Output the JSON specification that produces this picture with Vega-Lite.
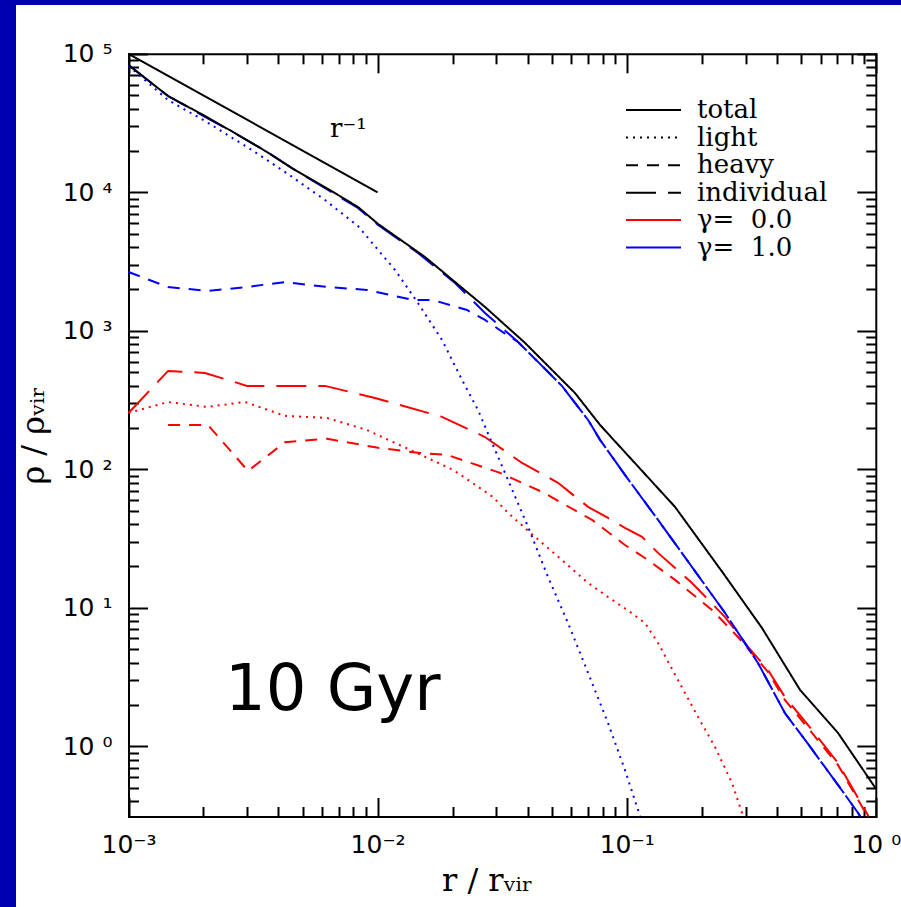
{
  "$schema": "https://vega.github.io/schema/vega-lite/v6.json",
  "width": 885,
  "height": 902,
  "padding": {"left": 16, "top": 5, "right": 0, "bottom": 0},
  "autosize": {"type": "none"},
  "background": "#0000b0",
  "config": {
    "view": {"fill": "white", "stroke": null},
    "axis": {
      "grid": false,
      "tickColor": "black",
      "tickWidth": 2,
      "domainColor": "black",
      "domainWidth": 2,
      "domainCap": "square",
      "labelColor": "black",
      "titleColor": "black",
      "labelFlush": false,
      "labelOverlap": false
    },
    "legend": {
      "labelFont": "DejaVu Serif",
      "labelFontSize": 26,
      "labelColor": "black",
      "labelLimit": 400,
      "rowPadding": 1.6,
      "padding": 0
    }
  },
  "datasets": {
    "profiles": [
      {"series": "s1", "component": "light", "gamma": "γ=\u00a0\u00a00.0", "r": 0.001, "rho": 255},
      {"series": "s1", "component": "light", "gamma": "γ=\u00a0\u00a00.0", "r": 0.001442, "rho": 306},
      {"series": "s1", "component": "light", "gamma": "γ=\u00a0\u00a00.0", "r": 0.002065, "rho": 282},
      {"series": "s1", "component": "light", "gamma": "γ=\u00a0\u00a00.0", "r": 0.002936, "rho": 306},
      {"series": "s1", "component": "light", "gamma": "γ=\u00a0\u00a00.0", "r": 0.00425, "rho": 243},
      {"series": "s1", "component": "light", "gamma": "γ=\u00a0\u00a00.0", "r": 0.006264, "rho": 235},
      {"series": "s1", "component": "light", "gamma": "γ=\u00a0\u00a00.0", "r": 0.009066, "rho": 192},
      {"series": "s1", "component": "light", "gamma": "γ=\u00a0\u00a00.0", "r": 0.01439, "rho": 131},
      {"series": "s1", "component": "light", "gamma": "γ=\u00a0\u00a00.0", "r": 0.02008, "rho": 99.0},
      {"series": "s1", "component": "light", "gamma": "γ=\u00a0\u00a00.0", "r": 0.02306, "rho": 83.8},
      {"series": "s1", "component": "light", "gamma": "γ=\u00a0\u00a00.0", "r": 0.02905, "rho": 63.1},
      {"series": "s1", "component": "light", "gamma": "γ=\u00a0\u00a00.0", "r": 0.03338, "rho": 48.4},
      {"series": "s1", "component": "light", "gamma": "γ=\u00a0\u00a00.0", "r": 0.04285, "rho": 32.5},
      {"series": "s1", "component": "light", "gamma": "γ=\u00a0\u00a00.0", "r": 0.05495, "rho": 22.1},
      {"series": "s1", "component": "light", "gamma": "γ=\u00a0\u00a00.0", "r": 0.06998, "rho": 15.1},
      {"series": "s1", "component": "light", "gamma": "γ=\u00a0\u00a00.0", "r": 0.08414, "rho": 11.97},
      {"series": "s1", "component": "light", "gamma": "γ=\u00a0\u00a00.0", "r": 0.1031, "rho": 9.33},
      {"series": "s1", "component": "light", "gamma": "γ=\u00a0\u00a00.0", "r": 0.1184, "rho": 7.76},
      {"series": "s1", "component": "light", "gamma": "γ=\u00a0\u00a00.0", "r": 0.1336, "rho": 5.57},
      {"series": "s1", "component": "light", "gamma": "γ=\u00a0\u00a00.0", "r": 0.1606, "rho": 3.01},
      {"series": "s1", "component": "light", "gamma": "γ=\u00a0\u00a00.0", "r": 0.1932, "rho": 1.63},
      {"series": "s1", "component": "light", "gamma": "γ=\u00a0\u00a00.0", "r": 0.2262, "rho": 0.988},
      {"series": "s1", "component": "light", "gamma": "γ=\u00a0\u00a00.0", "r": 0.2647, "rho": 0.543},
      {"series": "s1", "component": "light", "gamma": "γ=\u00a0\u00a00.0", "r": 0.2903, "rho": 0.33},
      {"series": "s1", "component": "light", "gamma": "γ=\u00a0\u00a00.0", "r": 0.2935, "rho": 0.311},

      {"series": "s2", "component": "heavy", "gamma": "γ=\u00a0\u00a00.0", "r": 0.001442, "rho": 209},
      {"series": "s2", "component": "heavy", "gamma": "γ=\u00a0\u00a00.0", "r": 0.002084, "rho": 209},
      {"series": "s2", "component": "heavy", "gamma": "γ=\u00a0\u00a00.0", "r": 0.003018, "rho": 97.3},
      {"series": "s2", "component": "heavy", "gamma": "γ=\u00a0\u00a00.0", "r": 0.00425, "rho": 157},
      {"series": "s2", "component": "heavy", "gamma": "γ=\u00a0\u00a00.0", "r": 0.006264, "rho": 166},
      {"series": "s2", "component": "heavy", "gamma": "γ=\u00a0\u00a00.0", "r": 0.01005, "rho": 143},
      {"series": "s2", "component": "heavy", "gamma": "γ=\u00a0\u00a00.0", "r": 0.0148, "rho": 131},
      {"series": "s2", "component": "heavy", "gamma": "γ=\u00a0\u00a00.0", "r": 0.019, "rho": 127},
      {"series": "s2", "component": "heavy", "gamma": "γ=\u00a0\u00a00.0", "r": 0.031, "rho": 94.2},
      {"series": "s2", "component": "heavy", "gamma": "γ=\u00a0\u00a00.0", "r": 0.04571, "rho": 68.7},
      {"series": "s2", "component": "heavy", "gamma": "γ=\u00a0\u00a00.0", "r": 0.07261, "rho": 43.1},
      {"series": "s2", "component": "heavy", "gamma": "γ=\u00a0\u00a00.0", "r": 0.0984, "rho": 28.4},
      {"series": "s2", "component": "heavy", "gamma": "γ=\u00a0\u00a00.0", "r": 0.1218, "rho": 22.1},
      {"series": "s2", "component": "heavy", "gamma": "γ=\u00a0\u00a00.0", "r": 0.1563, "rho": 15.9},
      {"series": "s2", "component": "heavy", "gamma": "γ=\u00a0\u00a00.0", "r": 0.22, "rho": 9.64},
      {"series": "s2", "component": "heavy", "gamma": "γ=\u00a0\u00a00.0", "r": 0.2797, "rho": 6.15},
      {"series": "s2", "component": "heavy", "gamma": "γ=\u00a0\u00a00.0", "r": 0.3692, "rho": 3.44},
      {"series": "s2", "component": "heavy", "gamma": "γ=\u00a0\u00a00.0", "r": 0.4315, "rho": 2.16},
      {"series": "s2", "component": "heavy", "gamma": "γ=\u00a0\u00a00.0", "r": 0.5546, "rho": 1.25},
      {"series": "s2", "component": "heavy", "gamma": "γ=\u00a0\u00a00.0", "r": 0.7047, "rho": 0.733},
      {"series": "s2", "component": "heavy", "gamma": "γ=\u00a0\u00a00.0", "r": 0.9051, "rho": 0.336},
      {"series": "s2", "component": "heavy", "gamma": "γ=\u00a0\u00a00.0", "r": 0.925, "rho": 0.311},

      {"series": "s3", "component": "individual", "gamma": "γ=\u00a0\u00a00.0", "r": 0.001, "rho": 255},
      {"series": "s3", "component": "individual", "gamma": "γ=\u00a0\u00a00.0", "r": 0.001442, "rho": 513},
      {"series": "s3", "component": "individual", "gamma": "γ=\u00a0\u00a00.0", "r": 0.002028, "rho": 496},
      {"series": "s3", "component": "individual", "gamma": "γ=\u00a0\u00a00.0", "r": 0.00299, "rho": 400},
      {"series": "s3", "component": "individual", "gamma": "γ=\u00a0\u00a00.0", "r": 0.006149, "rho": 400},
      {"series": "s3", "component": "individual", "gamma": "γ=\u00a0\u00a00.0", "r": 0.009763, "rho": 327},
      {"series": "s3", "component": "individual", "gamma": "γ=\u00a0\u00a00.0", "r": 0.01813, "rho": 239},
      {"series": "s3", "component": "individual", "gamma": "γ=\u00a0\u00a00.0", "r": 0.02698, "rho": 171},
      {"series": "s3", "component": "individual", "gamma": "γ=\u00a0\u00a00.0", "r": 0.038, "rho": 111},
      {"series": "s3", "component": "individual", "gamma": "γ=\u00a0\u00a00.0", "r": 0.053, "rho": 79.8},
      {"series": "s3", "component": "individual", "gamma": "γ=\u00a0\u00a00.0", "r": 0.06998, "rho": 53.5},
      {"series": "s3", "component": "individual", "gamma": "γ=\u00a0\u00a00.0", "r": 0.08414, "rho": 44.5},
      {"series": "s3", "component": "individual", "gamma": "γ=\u00a0\u00a00.0", "r": 0.0984, "rho": 37.7},
      {"series": "s3", "component": "individual", "gamma": "γ=\u00a0\u00a00.0", "r": 0.1152, "rho": 32.5},
      {"series": "s3", "component": "individual", "gamma": "γ=\u00a0\u00a00.0", "r": 0.1336, "rho": 24.9},
      {"series": "s3", "component": "individual", "gamma": "γ=\u00a0\u00a00.0", "r": 0.1828, "rho": 15.1},
      {"series": "s3", "component": "individual", "gamma": "γ=\u00a0\u00a00.0", "r": 0.2483, "rho": 8.57},
      {"series": "s3", "component": "individual", "gamma": "γ=\u00a0\u00a00.0", "r": 0.3069, "rho": 5.21},
      {"series": "s3", "component": "individual", "gamma": "γ=\u00a0\u00a00.0", "r": 0.3692, "rho": 3.56},
      {"series": "s3", "component": "individual", "gamma": "γ=\u00a0\u00a00.0", "r": 0.4315, "rho": 2.27},
      {"series": "s3", "component": "individual", "gamma": "γ=\u00a0\u00a00.0", "r": 0.5546, "rho": 1.31},
      {"series": "s3", "component": "individual", "gamma": "γ=\u00a0\u00a00.0", "r": 0.7047, "rho": 0.757},
      {"series": "s3", "component": "individual", "gamma": "γ=\u00a0\u00a00.0", "r": 0.9051, "rho": 0.347},
      {"series": "s3", "component": "individual", "gamma": "γ=\u00a0\u00a00.0", "r": 0.935, "rho": 0.311},

      {"series": "s4", "component": "light", "gamma": "γ=\u00a0\u00a01.0", "r": 0.001, "rho": 81660},
      {"series": "s4", "component": "light", "gamma": "γ=\u00a0\u00a01.0", "r": 0.001442, "rho": 46360},
      {"series": "s4", "component": "light", "gamma": "γ=\u00a0\u00a01.0", "r": 0.002028, "rho": 32730},
      {"series": "s4", "component": "light", "gamma": "γ=\u00a0\u00a01.0", "r": 0.003131, "rho": 20180},
      {"series": "s4", "component": "light", "gamma": "γ=\u00a0\u00a01.0", "r": 0.004369, "rho": 13550},
      {"series": "s4", "component": "light", "gamma": "γ=\u00a0\u00a01.0", "r": 0.006149, "rho": 8790},
      {"series": "s4", "component": "light", "gamma": "γ=\u00a0\u00a01.0", "r": 0.008337, "rho": 5715},
      {"series": "s4", "component": "light", "gamma": "γ=\u00a0\u00a01.0", "r": 0.01005, "rho": 3828},
      {"series": "s4", "component": "light", "gamma": "γ=\u00a0\u00a01.0", "r": 0.01175, "rho": 2748},
      {"series": "s4", "component": "light", "gamma": "γ=\u00a0\u00a01.0", "r": 0.01452, "rho": 1588},
      {"series": "s4", "component": "light", "gamma": "γ=\u00a0\u00a01.0", "r": 0.01813, "rho": 859},
      {"series": "s4", "component": "light", "gamma": "γ=\u00a0\u00a01.0", "r": 0.02182, "rho": 442},
      {"series": "s4", "component": "light", "gamma": "γ=\u00a0\u00a01.0", "r": 0.02529, "rho": 268},
      {"series": "s4", "component": "light", "gamma": "γ=\u00a0\u00a01.0", "r": 0.02825, "rho": 168},
      {"series": "s4", "component": "light", "gamma": "γ=\u00a0\u00a01.0", "r": 0.03338, "rho": 83.8},
      {"series": "s4", "component": "light", "gamma": "γ=\u00a0\u00a01.0", "r": 0.04018, "rho": 38.4},
      {"series": "s4", "component": "light", "gamma": "γ=\u00a0\u00a01.0", "r": 0.04831, "rho": 16.7},
      {"series": "s4", "component": "light", "gamma": "γ=\u00a0\u00a01.0", "r": 0.05812, "rho": 7.76},
      {"series": "s4", "component": "light", "gamma": "γ=\u00a0\u00a01.0", "r": 0.06998, "rho": 3.38},
      {"series": "s4", "component": "light", "gamma": "γ=\u00a0\u00a01.0", "r": 0.08414, "rho": 1.47},
      {"series": "s4", "component": "light", "gamma": "γ=\u00a0\u00a01.0", "r": 0.0984, "rho": 0.674},
      {"series": "s4", "component": "light", "gamma": "γ=\u00a0\u00a01.0", "r": 0.111, "rho": 0.347},
      {"series": "s4", "component": "light", "gamma": "γ=\u00a0\u00a01.0", "r": 0.1132, "rho": 0.311},

      {"series": "s5", "component": "heavy", "gamma": "γ=\u00a0\u00a01.0", "r": 0.001, "rho": 2655},
      {"series": "s5", "component": "heavy", "gamma": "γ=\u00a0\u00a01.0", "r": 0.001442, "rho": 2071},
      {"series": "s5", "component": "heavy", "gamma": "γ=\u00a0\u00a01.0", "r": 0.002065, "rho": 1938},
      {"series": "s5", "component": "heavy", "gamma": "γ=\u00a0\u00a01.0", "r": 0.00299, "rho": 2071},
      {"series": "s5", "component": "heavy", "gamma": "γ=\u00a0\u00a01.0", "r": 0.00425, "rho": 2249},
      {"series": "s5", "component": "heavy", "gamma": "γ=\u00a0\u00a01.0", "r": 0.006264, "rho": 2071},
      {"series": "s5", "component": "heavy", "gamma": "γ=\u00a0\u00a01.0", "r": 0.009066, "rho": 1972},
      {"series": "s5", "component": "heavy", "gamma": "γ=\u00a0\u00a01.0", "r": 0.01387, "rho": 1667},
      {"series": "s5", "component": "heavy", "gamma": "γ=\u00a0\u00a01.0", "r": 0.01668, "rho": 1667},
      {"series": "s5", "component": "heavy", "gamma": "γ=\u00a0\u00a01.0", "r": 0.02285, "rho": 1413},
      {"series": "s5", "component": "heavy", "gamma": "γ=\u00a0\u00a01.0", "r": 0.02698, "rho": 1197},
      {"series": "s5", "component": "heavy", "gamma": "γ=\u00a0\u00a01.0", "r": 0.03246, "rho": 955},
      {"series": "s5", "component": "heavy", "gamma": "γ=\u00a0\u00a01.0", "r": 0.03664, "rho": 830},
      {"series": "s5", "component": "heavy", "gamma": "γ=\u00a0\u00a01.0", "r": 0.04406, "rho": 596},
      {"series": "s5", "component": "heavy", "gamma": "γ=\u00a0\u00a01.0", "r": 0.05495, "rho": 400},
      {"series": "s5", "component": "heavy", "gamma": "γ=\u00a0\u00a01.0", "r": 0.06998, "rho": 227},
      {"series": "s5", "component": "heavy", "gamma": "γ=\u00a0\u00a01.0", "r": 0.07816, "rho": 163},
      {"series": "s5", "component": "heavy", "gamma": "γ=\u00a0\u00a01.0", "r": 0.0984, "rho": 91.0},
      {"series": "s5", "component": "heavy", "gamma": "γ=\u00a0\u00a01.0", "r": 0.1336, "rho": 43.1},
      {"series": "s5", "component": "heavy", "gamma": "γ=\u00a0\u00a01.0", "r": 0.1828, "rho": 19.7},
      {"series": "s5", "component": "heavy", "gamma": "γ=\u00a0\u00a01.0", "r": 0.2483, "rho": 9.17},
      {"series": "s5", "component": "heavy", "gamma": "γ=\u00a0\u00a01.0", "r": 0.3365, "rho": 3.99},
      {"series": "s5", "component": "heavy", "gamma": "γ=\u00a0\u00a01.0", "r": 0.4315, "rho": 1.738},
      {"series": "s5", "component": "heavy", "gamma": "γ=\u00a0\u00a01.0", "r": 0.5346, "rho": 1.039},
      {"series": "s5", "component": "heavy", "gamma": "γ=\u00a0\u00a01.0", "r": 0.7047, "rho": 0.526},
      {"series": "s5", "component": "heavy", "gamma": "γ=\u00a0\u00a01.0", "r": 0.8492, "rho": 0.33},
      {"series": "s5", "component": "heavy", "gamma": "γ=\u00a0\u00a01.0", "r": 0.866, "rho": 0.311},

      {"series": "s6", "component": "individual", "gamma": "γ=\u00a0\u00a01.0", "r": 0.001, "rho": 82990},
      {"series": "s6", "component": "individual", "gamma": "γ=\u00a0\u00a01.0", "r": 0.001442, "rho": 49550},
      {"series": "s6", "component": "individual", "gamma": "γ=\u00a0\u00a01.0", "r": 0.002028, "rho": 34990},
      {"series": "s6", "component": "individual", "gamma": "γ=\u00a0\u00a01.0", "r": 0.00263, "rho": 27230},
      {"series": "s6", "component": "individual", "gamma": "γ=\u00a0\u00a01.0", "r": 0.003597, "rho": 19540},
      {"series": "s6", "component": "individual", "gamma": "γ=\u00a0\u00a01.0", "r": 0.004529, "rho": 14960},
      {"series": "s6", "component": "individual", "gamma": "γ=\u00a0\u00a01.0", "r": 0.006324, "rho": 10400},
      {"series": "s6", "component": "individual", "gamma": "γ=\u00a0\u00a01.0", "r": 0.008337, "rho": 7709},
      {"series": "s6", "component": "individual", "gamma": "γ=\u00a0\u00a01.0", "r": 0.01005, "rho": 5808},
      {"series": "s6", "component": "individual", "gamma": "γ=\u00a0\u00a01.0", "r": 0.01452, "rho": 3648},
      {"series": "s6", "component": "individual", "gamma": "γ=\u00a0\u00a01.0", "r": 0.02046, "rho": 2213},
      {"series": "s6", "component": "individual", "gamma": "γ=\u00a0\u00a01.0", "r": 0.02698, "rho": 1346},
      {"series": "s6", "component": "individual", "gamma": "γ=\u00a0\u00a01.0", "r": 0.03664, "rho": 830},
      {"series": "s6", "component": "individual", "gamma": "γ=\u00a0\u00a01.0", "r": 0.04406, "rho": 596},
      {"series": "s6", "component": "individual", "gamma": "γ=\u00a0\u00a01.0", "r": 0.05495, "rho": 400},
      {"series": "s6", "component": "individual", "gamma": "γ=\u00a0\u00a01.0", "r": 0.06998, "rho": 227},
      {"series": "s6", "component": "individual", "gamma": "γ=\u00a0\u00a01.0", "r": 0.07816, "rho": 163},
      {"series": "s6", "component": "individual", "gamma": "γ=\u00a0\u00a01.0", "r": 0.0984, "rho": 91.0},
      {"series": "s6", "component": "individual", "gamma": "γ=\u00a0\u00a01.0", "r": 0.1336, "rho": 43.1},
      {"series": "s6", "component": "individual", "gamma": "γ=\u00a0\u00a01.0", "r": 0.1828, "rho": 19.7},
      {"series": "s6", "component": "individual", "gamma": "γ=\u00a0\u00a01.0", "r": 0.2483, "rho": 9.17},
      {"series": "s6", "component": "individual", "gamma": "γ=\u00a0\u00a01.0", "r": 0.3365, "rho": 3.99},
      {"series": "s6", "component": "individual", "gamma": "γ=\u00a0\u00a01.0", "r": 0.4315, "rho": 1.738},
      {"series": "s6", "component": "individual", "gamma": "γ=\u00a0\u00a01.0", "r": 0.5346, "rho": 1.039},
      {"series": "s6", "component": "individual", "gamma": "γ=\u00a0\u00a01.0", "r": 0.7047, "rho": 0.526},
      {"series": "s6", "component": "individual", "gamma": "γ=\u00a0\u00a01.0", "r": 0.8492, "rho": 0.33},
      {"series": "s6", "component": "individual", "gamma": "γ=\u00a0\u00a01.0", "r": 0.866, "rho": 0.311},

      {"series": "s7", "component": "total", "gamma": "all", "r": 0.001, "rho": 82990},
      {"series": "s7", "component": "total", "gamma": "all", "r": 0.001442, "rho": 49550},
      {"series": "s7", "component": "total", "gamma": "all", "r": 0.002028, "rho": 35560},
      {"series": "s7", "component": "total", "gamma": "all", "r": 0.00263, "rho": 27230},
      {"series": "s7", "component": "total", "gamma": "all", "r": 0.003597, "rho": 19540},
      {"series": "s7", "component": "total", "gamma": "all", "r": 0.004529, "rho": 14960},
      {"series": "s7", "component": "total", "gamma": "all", "r": 0.006324, "rho": 10570},
      {"series": "s7", "component": "total", "gamma": "all", "r": 0.008337, "rho": 7834},
      {"series": "s7", "component": "total", "gamma": "all", "r": 0.01005, "rho": 5902},
      {"series": "s7", "component": "total", "gamma": "all", "r": 0.01549, "rho": 3412},
      {"series": "s7", "component": "total", "gamma": "all", "r": 0.02698, "rho": 1486},
      {"series": "s7", "component": "total", "gamma": "all", "r": 0.03908, "rho": 817},
      {"series": "s7", "component": "total", "gamma": "all", "r": 0.06194, "rho": 356},
      {"series": "s7", "component": "total", "gamma": "all", "r": 0.07816, "rho": 209},
      {"series": "s7", "component": "total", "gamma": "all", "r": 0.0873, "rho": 168},
      {"series": "s7", "component": "total", "gamma": "all", "r": 0.1563, "rho": 53.5},
      {"series": "s7", "component": "total", "gamma": "all", "r": 0.2438, "rho": 17.8},
      {"series": "s7", "component": "total", "gamma": "all", "r": 0.3491, "rho": 7.15},
      {"series": "s7", "component": "total", "gamma": "all", "r": 0.4966, "rho": 2.55},
      {"series": "s7", "component": "total", "gamma": "all", "r": 0.7047, "rho": 1.25},
      {"series": "s7", "component": "total", "gamma": "all", "r": 1.0, "rho": 0.495}
    ],
    "powerlaw": [
      {"r": 0.001, "rho": 100000},
      {"r": 0.01, "rho": 10000}
    ],
    "epoch": [
      {"label": "10 Gyr", "r": 0.00244, "rho": 1.83}
    ],
    "slope": [
      {"label": "r⁻¹", "r": 0.00644, "rho": 25060}
    ]
  },
  "layer": [
    {
      "data": {"name": "profiles"},
      "mark": {"type": "line", "strokeWidth": 2},
      "encoding": {
        "x": {
          "field": "r",
          "type": "quantitative",
          "scale": {"type": "log", "domain": [0.001, 1], "range": [112.5, 859.8], "nice": false},
          "axis": {
            "orient": "bottom",
            "offset": -90.5,
            "values": [0.001, 0.01, 0.1, 1],
            "tickSize": -19,
            "labelExpr": "datum.value < 0.005 ? '10⁻³' : datum.value < 0.05 ? '10⁻²' : datum.value < 0.5 ? '10⁻¹' : '10 ⁰'",
            "labelFont": "DejaVu Sans",
            "labelFontSize": 25,
            "labelPadding": 35,
            "title": "r / rᵥᵢᵣ",
            "titleFont": "DejaVu Serif",
            "titleFontSize": 32,
            "titleFontWeight": "normal",
            "titleX": 471,
            "titleY": 63.5,
            "titleAlign": "center",
            "titleBaseline": "middle"
          }
        },
        "y": {
          "field": "rho",
          "type": "quantitative",
          "scale": {"type": "log", "domain": [0.311, 100000], "range": [811.5, 48.8], "nice": false},
          "axis": {
            "orient": "left",
            "offset": -112.5,
            "values": [1, 10, 100, 1000, 10000, 100000],
            "tickSize": -19,
            "labelExpr": "datum.value < 5 ? '10 ⁰' : datum.value < 50 ? '10 ¹' : datum.value < 500 ? '10 ²' : datum.value < 5000 ? '10 ³' : datum.value < 50000 ? '10 ⁴' : '10 ⁵'",
            "labelFont": "DejaVu Sans",
            "labelFontSize": 25,
            "labelPadding": 35.5,
            "title": "ρ / ρᵥᵢᵣ",
            "titleFont": "DejaVu Serif",
            "titleFontSize": 32,
            "titleFontWeight": "normal",
            "titleAngle": -90,
            "titleX": -95.5,
            "titleY": 430,
            "titleAlign": "center",
            "titleBaseline": "middle"
          }
        },
        "color": {
          "field": "gamma",
          "type": "nominal",
          "scale": {
            "domain": ["γ=\u00a0\u00a00.0", "γ=\u00a0\u00a01.0", "all"],
            "range": ["#ff0000", "#0000ff", "#000000"]
          },
          "legend": {
            "values": ["γ=\u00a0\u00a00.0", "γ=\u00a0\u00a01.0"],
            "orient": "none",
            "legendX": 607,
            "legendY": 202,
            "title": null,
            "symbolType": "M-1,0H4.5",
            "symbolSize": 400,
            "symbolStrokeWidth": 2,
            "labelOffset": 48
          }
        },
        "strokeDash": {
          "field": "component",
          "type": "nominal",
          "scale": {
            "domain": ["total", "light", "heavy", "individual"],
            "range": [[1, 0], [2, 5], [12, 9], [30, 12]]
          },
          "legend": {
            "orient": "none",
            "legendX": 607,
            "legendY": 92,
            "title": null,
            "symbolType": "M-1,0H4.5",
            "symbolSize": 400,
            "symbolStrokeWidth": 2,
            "symbolStrokeColor": "black",
            "labelOffset": 48
          }
        },
        "detail": {"field": "series", "type": "nominal"}
      }
    },
    {
      "data": {"name": "powerlaw"},
      "mark": {"type": "line", "color": "black", "strokeWidth": 2},
      "encoding": {
        "x": {
          "field": "r",
          "type": "quantitative",
          "axis": {
            "orient": "top",
            "offset": -48.8,
            "values": [0.001, 0.01, 0.1, 1],
            "tickSize": -19,
            "labels": false,
            "title": null
          }
        },
        "y": {
          "field": "rho",
          "type": "quantitative",
          "axis": {
            "orient": "right",
            "offset": -25.2,
            "values": [1, 10, 100, 1000, 10000, 100000],
            "tickSize": -19,
            "labels": false,
            "title": null
          }
        }
      }
    },
    {
      "data": {"name": "epoch"},
      "mark": {"type": "text", "font": "DejaVu Sans", "fontSize": 64, "align": "left", "baseline": "alphabetic", "color": "black"},
      "encoding": {
        "x": {
          "field": "r",
          "type": "quantitative",
          "axis": {
            "orient": "bottom",
            "offset": -90.5,
            "values": [0.002, 0.003, 0.004, 0.005, 0.006, 0.007, 0.008, 0.009, 0.02, 0.03, 0.04, 0.05, 0.06, 0.07, 0.08, 0.09, 0.2, 0.3, 0.4, 0.5, 0.6, 0.7, 0.8, 0.9],
            "tickSize": -10,
            "labels": false,
            "domain": false,
            "title": null
          }
        },
        "y": {
          "field": "rho",
          "type": "quantitative",
          "axis": {
            "orient": "left",
            "offset": -112.5,
            "values": [0.4, 0.5, 0.6, 0.7, 0.8, 0.9, 2, 3, 4, 5, 6, 7, 8, 9, 20, 30, 40, 50, 60, 70, 80, 90, 200, 300, 400, 500, 600, 700, 800, 900, 2000, 3000, 4000, 5000, 6000, 7000, 8000, 9000, 20000, 30000, 40000, 50000, 60000, 70000, 80000, 90000],
            "tickSize": -10,
            "labels": false,
            "domain": false,
            "title": null
          }
        },
        "text": {"field": "label", "type": "nominal"}
      }
    },
    {
      "data": {"name": "slope"},
      "mark": {"type": "text", "font": "DejaVu Serif", "fontSize": 26, "align": "left", "baseline": "alphabetic", "color": "black"},
      "encoding": {
        "x": {
          "field": "r",
          "type": "quantitative",
          "axis": {
            "orient": "top",
            "offset": -48.8,
            "values": [0.002, 0.003, 0.004, 0.005, 0.006, 0.007, 0.008, 0.009, 0.02, 0.03, 0.04, 0.05, 0.06, 0.07, 0.08, 0.09, 0.2, 0.3, 0.4, 0.5, 0.6, 0.7, 0.8, 0.9],
            "tickSize": -10,
            "labels": false,
            "domain": false,
            "title": null
          }
        },
        "y": {
          "field": "rho",
          "type": "quantitative",
          "axis": {
            "orient": "right",
            "offset": -25.2,
            "values": [0.4, 0.5, 0.6, 0.7, 0.8, 0.9, 2, 3, 4, 5, 6, 7, 8, 9, 20, 30, 40, 50, 60, 70, 80, 90, 200, 300, 400, 500, 600, 700, 800, 900, 2000, 3000, 4000, 5000, 6000, 7000, 8000, 9000, 20000, 30000, 40000, 50000, 60000, 70000, 80000, 90000],
            "tickSize": -10,
            "labels": false,
            "domain": false,
            "title": null
          }
        },
        "text": {"field": "label", "type": "nominal"}
      }
    }
  ],
  "resolve": {"axis": {"x": "independent", "y": "independent"}}
}
